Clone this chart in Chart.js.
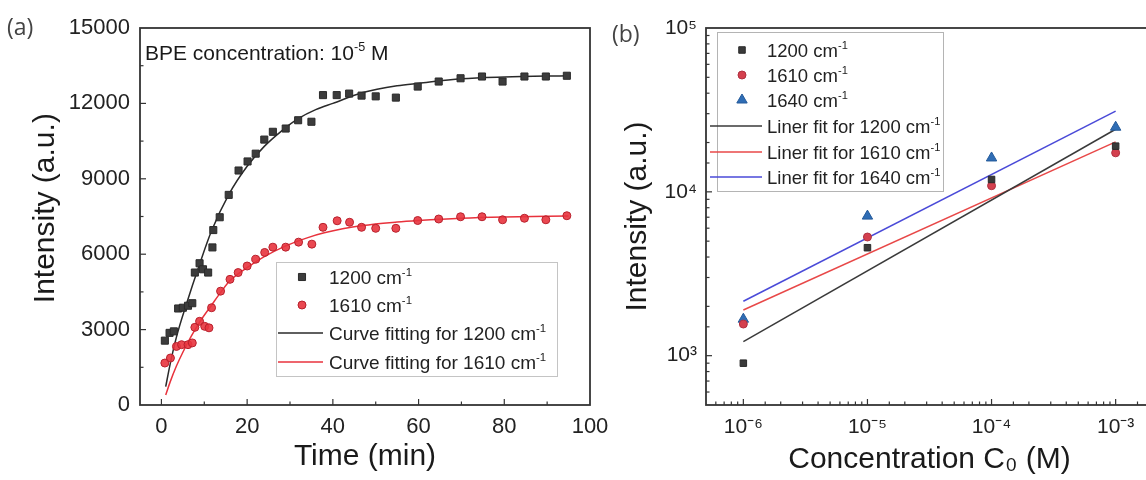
<!DOCTYPE html>
<html>
<head>
<meta charset="utf-8">
<script src="https://cdn.jsdelivr.net/npm/chart.js@4.4.1/dist/chart.umd.min.js"></script>
<style>
  html, body { margin: 0; padding: 0; background: #fff; overflow: hidden; width: 1146px; height: 480px; }
  #wrapB { position: absolute; left: 600px; top: 0; width: 560px; height: 480px; }
  #wrapA { position: absolute; left: 0; top: 0; width: 620px; height: 480px; }
</style>
</head>
<body>
<div id="wrapB"><canvas id="chartB" width="560" height="480"></canvas></div>
<div id="wrapA"><canvas id="chartA" width="620" height="480"></canvas></div>
<script>
// ---------- Panel (a): intensity vs. time ----------
const time1200 = [0.8, 1.9, 2.9, 3.9, 5.0, 6.2, 7.2, 7.8, 8.9, 9.7, 10.9, 11.9, 12.1, 13.6, 15.7, 18.0, 20.1, 22.0, 24.0, 26.0, 29.0, 31.9, 35.0, 37.7, 40.9, 43.8, 46.7, 50.0, 54.7, 59.8, 64.7, 69.8, 74.8, 79.6, 84.7, 89.7, 94.6];
const int1200 = [2560, 2870, 2930, 3840, 3870, 3950, 4050, 5270, 5640, 5400, 5270, 6270, 6960, 7470, 8360, 9330, 9690, 10000, 10560, 10870, 11000, 11330, 11270, 12330, 12330, 12390, 12310, 12280, 12230, 12670, 12870, 13000, 13070, 12870, 13070, 13070, 13100];

const time1610 = [0.8, 2.1, 3.5, 4.7, 6.2, 7.2, 7.8, 8.9, 10.1, 11.1, 11.7, 13.8, 16.0, 17.9, 20.0, 22.0, 24.1, 26.0, 29.0, 32.0, 35.1, 37.7, 41.0, 43.9, 46.7, 50.0, 54.7, 59.8, 64.7, 69.8, 74.8, 79.6, 84.7, 89.7, 94.6];
const int1610 = [1670, 1870, 2330, 2400, 2400, 2470, 3090, 3330, 3130, 3070, 3870, 4530, 5000, 5270, 5530, 5800, 6070, 6280, 6280, 6480, 6400, 7070, 7330, 7270, 7070, 7030, 7030, 7340, 7400, 7490, 7490, 7370, 7430, 7370, 7530];

const fitTime1200 = [1, 2, 3.5, 5.8, 8.9, 11.7, 15.8, 20, 24, 28, 32, 36, 40, 47, 55, 60, 70, 80, 95];
const fit1200 = [730, 1600, 2700, 4000, 5600, 6930, 8400, 9500, 10290, 10900, 11400, 11750, 12000, 12430, 12700, 12800, 12980, 13050, 13100];

const fitTime1610 = [1, 2, 3.5, 5, 7, 9, 11.8, 14, 16, 20, 24, 29, 34, 38, 47, 55, 60, 70, 80, 95];
const fit1610 = [400, 900, 1550, 2100, 2750, 3320, 4000, 4520, 4950, 5470, 5900, 6330, 6650, 6850, 7140, 7280, 7340, 7430, 7480, 7520];

const timeTicks = [0, 20, 40, 60, 80, 100];
const timeMinorTicks = [10, 30, 50, 70, 90];
const intensityTicksA = [0, 3000, 6000, 9000, 12000, 15000];

// ---------- Panel (b): intensity vs. concentration ----------
const conc = [1e-6, 1e-5, 1e-4, 1e-3];
const int1200b = [900, 4560, 11900, 19000];
const int1610b = [1560, 5300, 10900, 17300];
const int1640b = [1670, 7110, 16100, 24800];

const fitConc = [1e-6, 1e-3];
const fit1200b = [1220, 24100];
const fit1610b = [1900, 20200];
const fit1640b = [2150, 31100];

const concTicks = [1e-6, 1e-5, 1e-4, 1e-3];
const intensityTicksB = [1e3, 1e4, 1e5];

// ---------- shared helpers ----------
const FONT = "'Liberation Sans', Arial, Helvetica, sans-serif";
Chart.defaults.font.family = FONT;
Chart.defaults.color = '#222';

const pts = (xs, ys) => xs.map((x, i) => ({ x, y: ys[i] }));
const near = (list, v) => list.some(t => Math.abs(Math.log10(Math.abs(t) || 1) - Math.log10(Math.abs(v) || 1)) < 1e-6 && Math.sign(t) === Math.sign(v));
const SUP = { '-': '\u207B', '0': '\u2070', '1': '\u00B9', '2': '\u00B2', '3': '\u00B3', '4': '\u2074', '5': '\u2075', '6': '\u2076', '7': '\u2077', '8': '\u2078', '9': '\u2079' };
const powLabel = v => '10' + String(Math.round(Math.log10(v))).split('').map(c => SUP[c]).join('');

// text with raised exponents, drawn from a baseline
function drawRich(ctx, x, y, parts, size, color) {
  ctx.save();
  ctx.fillStyle = color;
  ctx.textAlign = 'left';
  ctx.textBaseline = 'alphabetic';
  let cx = x;
  for (const p of parts) {
    const s = p.sup ? size * 0.6 : size;
    ctx.font = `${s}px ${FONT}`;
    const dy = p.sup ? -size * 0.42 : 0;
    ctx.fillText(p.text, cx, y + dy);
    cx += ctx.measureText(p.text).width;
  }
  ctx.restore();
}

function marker(ctx, ds, x, y) {
  ctx.save();
  ctx.fillStyle = ds.backgroundColor;
  ctx.strokeStyle = ds.borderColor;
  ctx.lineWidth = ds.borderWidth;
  Chart.helpers.drawPoint(ctx, { pointStyle: ds.pointStyle, radius: ds.pointRadius, borderWidth: ds.borderWidth, rotation: 0 }, x, y);
  ctx.restore();
}

// closed frame plus inward ticks; extra draws legend and labels
function makeFramePlugin(kindX, kindY, extra) {
  return {
    id: 'frameTicks',
    afterDatasetsDraw(chart) {
      const { ctx, chartArea: a } = chart;
      ctx.save();
      ctx.strokeStyle = '#333';
      ctx.lineWidth = 1.2;
      const xs = chart.scales.x, ys = chart.scales.y;
      for (const t of xs.ticks) {
        const k = kindX(t.value);
        if (!k) continue;
        const p = xs.getPixelForValue(t.value);
        if (p < a.left + 1 || p > a.right - 1) continue;
        const len = k === 'major' ? 6 : 3.5;
        ctx.beginPath(); ctx.moveTo(p, a.bottom); ctx.lineTo(p, a.bottom - len); ctx.stroke();
      }
      for (const t of ys.ticks) {
        const k = kindY(t.value);
        if (!k) continue;
        const p = ys.getPixelForValue(t.value);
        if (p < a.top + 1 || p > a.bottom - 1) continue;
        const len = k === 'major' ? 6 : 3.5;
        ctx.beginPath(); ctx.moveTo(a.left, p); ctx.lineTo(a.left + len, p); ctx.stroke();
      }
      ctx.lineWidth = 1.8;
      ctx.strokeRect(a.left, a.top, a.right - a.left, a.bottom - a.top);
      ctx.restore();
    },
    afterDraw(chart) { extra(chart); }
  };
}

function axisFit(size, horizontal) {
  return s => {
    if (horizontal) { s.height = size; s.paddingLeft = 0; s.paddingRight = 0; }
    else { s.width = size; s.paddingTop = 0; s.paddingBottom = 0; }
  };
}

const cm = (n) => [{ text: n + ' cm' }, { text: '-1', sup: true }];

// ---------- chart (a) ----------
const dsA = [
  { label: '1200 cm-1', data: pts(time1200, int1200), pointStyle: 'rect', pointRadius: 5, backgroundColor: '#3c3c3c', borderColor: '#2a2a2a', borderWidth: 1, showLine: false },
  { label: '1610 cm-1', data: pts(time1610, int1610), pointStyle: 'circle', pointRadius: 4, backgroundColor: 'rgba(232,52,62,0.9)', borderColor: '#b8202c', borderWidth: 1, showLine: false },
  { label: 'Curve fitting for 1200 cm-1', data: pts(fitTime1200, fit1200), showLine: true, pointRadius: 0, borderColor: '#2a2a2a', backgroundColor: '#2a2a2a', borderWidth: 1.5, cubicInterpolationMode: 'monotone' },
  { label: 'Curve fitting for 1610 cm-1', data: pts(fitTime1610, fit1610), showLine: true, pointRadius: 0, borderColor: '#e8323c', backgroundColor: '#e8323c', borderWidth: 1.5, cubicInterpolationMode: 'monotone' }
];

const extraA = chart => {
  const ctx = chart.ctx;
  // panel tag
  ctx.save();
  ctx.font = `23px 'Open Sans', sans-serif`;
  ctx.fillStyle = '#444';
  ctx.textBaseline = 'middle';
  ctx.fillText('(a)', 7, 28);
  ctx.restore();
  // annotation
  drawRich(ctx, 145, 60, [{ text: 'BPE concentration: 10' }, { text: '-5', sup: true }, { text: ' M' }], 21, '#1a1a1a');
  // legend box
  ctx.save();
  ctx.fillStyle = '#fff';
  ctx.strokeStyle = '#c4c4c4';
  ctx.lineWidth = 1;
  ctx.fillRect(276, 262, 281, 114);
  ctx.strokeRect(276.5, 262.5, 281, 114);
  ctx.restore();
  const rows = [277, 305, 333, 362];
  const ds = chart.data.datasets;
  marker(ctx, ds[0], 302, rows[0]);
  marker(ctx, ds[1], 302, rows[1]);
  [2, 3].forEach((i, j) => {
    ctx.save();
    ctx.strokeStyle = ds[i].borderColor; ctx.lineWidth = 1.5;
    ctx.beginPath(); ctx.moveTo(278, rows[2 + j]); ctx.lineTo(323, rows[2 + j]); ctx.stroke();
    ctx.restore();
  });
  const size = 19;
  drawRich(ctx, 329, rows[0] + 7, cm('1200'), size, '#222');
  drawRich(ctx, 329, rows[1] + 7, cm('1610'), size, '#222');
  drawRich(ctx, 329, rows[2] + 7, [{ text: 'Curve fitting for 1200 cm' }, { text: '-1', sup: true }], size, '#222');
  drawRich(ctx, 329, rows[3] + 7, [{ text: 'Curve fitting for 1610 cm' }, { text: '-1', sup: true }], size, '#222');
};

new Chart(document.getElementById('chartA'), {
  type: 'scatter',
  data: { datasets: dsA },
  options: {
    responsive: false,
    animation: false,
    layout: { padding: { top: 28, right: 30, left: 0, bottom: 0 } },
    plugins: { legend: { display: false }, tooltip: { enabled: false } },
    scales: {
      x: {
        type: 'linear', min: -5, max: 100,
        afterFit: axisFit(75, true),
        afterBuildTicks: s => { s.ticks = timeTicks.concat(timeMinorTicks).sort((p, q) => p - q).map(v => ({ value: v })); },
        grid: { display: false, drawTicks: false },
        border: { display: false },
        ticks: { autoSkip: false, maxRotation: 0, padding: 9, font: { size: 22 }, color: '#222',
          callback: v => timeTicks.includes(v) ? String(v) : '' },
        title: { display: true, text: 'Time (min)', font: { size: 30 }, color: '#1a1a1a', padding: { top: 0, bottom: 5 } }
      },
      y: {
        type: 'linear', min: 0, max: 15000,
        afterFit: axisFit(140, false),
        grid: { display: false, drawTicks: false },
        border: { display: false },
        ticks: { stepSize: 1500, autoSkip: false, padding: 10, font: { size: 22 }, color: '#222',
          callback: v => intensityTicksA.includes(v) ? String(v) : '' },
        title: { display: true, text: '  Intensity (a.u.)', font: { size: 30 }, color: '#1a1a1a', padding: { top: 28, bottom: 0 } }
      }
    }
  },
  plugins: [makeFramePlugin(
    v => timeTicks.includes(v) ? 'major' : (timeMinorTicks.includes(v) ? 'minor' : null),
    v => intensityTicksA.includes(v) ? 'major' : (v % 1500 === 0 ? 'minor' : null),
    extraA)]
});

// ---------- chart (b) ----------
const dsB = [
  { label: '1200 cm-1', data: pts(conc, int1200b), pointStyle: 'rect', pointRadius: 4.6, backgroundColor: '#3a3a3a', borderColor: '#2a2a2a', borderWidth: 1, showLine: false },
  { label: '1610 cm-1', data: pts(conc, int1610b), pointStyle: 'circle', pointRadius: 4, backgroundColor: '#d4404e', borderColor: '#b03040', borderWidth: 1, showLine: false },
  { label: '1640 cm-1', data: pts(conc, int1640b), pointStyle: 'triangle', pointRadius: 6, backgroundColor: '#2f6db5', borderColor: '#245a9a', borderWidth: 1, showLine: false },
  { label: 'Liner fit for 1200 cm-1', data: pts(fitConc, fit1200b), showLine: true, pointRadius: 0, borderColor: '#3a3a3a', borderWidth: 1.5 },
  { label: 'Liner fit for 1610 cm-1', data: pts(fitConc, fit1610b), showLine: true, pointRadius: 0, borderColor: '#e84848', borderWidth: 1.5 },
  { label: 'Liner fit for 1640 cm-1', data: pts(fitConc, fit1640b), showLine: true, pointRadius: 0, borderColor: '#4a4ad8', borderWidth: 1.5 }
];

const extraB = chart => {
  const ctx = chart.ctx;
  ctx.save();
  ctx.font = `23px 'Open Sans', sans-serif`;
  ctx.fillStyle = '#444';
  ctx.textBaseline = 'middle';
  ctx.fillText('(b)', 12, 35);
  ctx.restore();
  // legend box
  ctx.save();
  ctx.fillStyle = '#fff';
  ctx.strokeStyle = '#b4b4b4';
  ctx.lineWidth = 1;
  ctx.fillRect(117, 32, 226, 159);
  ctx.strokeRect(117.5, 32.5, 226, 159);
  ctx.restore();
  const rows = [50, 75, 100, 126, 152, 177];
  const ds = chart.data.datasets;
  for (let i = 0; i < 3; i++) marker(ctx, ds[i], 142, rows[i]);
  for (let i = 3; i < 6; i++) {
    ctx.save();
    ctx.strokeStyle = ds[i].borderColor; ctx.lineWidth = 1.5;
    ctx.beginPath(); ctx.moveTo(110, rows[i]); ctx.lineTo(162, rows[i]); ctx.stroke();
    ctx.restore();
  }
  const size = 18.5;
  drawRich(ctx, 167, rows[0] + 7, cm('1200'), size, '#222');
  drawRich(ctx, 167, rows[1] + 7, cm('1610'), size, '#222');
  drawRich(ctx, 167, rows[2] + 7, cm('1640'), size, '#222');
  drawRich(ctx, 167, rows[3] + 7, [{ text: 'Liner fit for 1200 cm' }, { text: '-1', sup: true }], size, '#222');
  drawRich(ctx, 167, rows[4] + 7, [{ text: 'Liner fit for 1610 cm' }, { text: '-1', sup: true }], size, '#222');
  drawRich(ctx, 167, rows[5] + 7, [{ text: 'Liner fit for 1640 cm' }, { text: '-1', sup: true }], size, '#222');
};

new Chart(document.getElementById('chartB'), {
  type: 'scatter',
  data: { datasets: dsB },
  options: {
    responsive: false,
    animation: false,
    layout: { padding: { top: 28, right: 6, left: 0, bottom: 0 } },
    plugins: { legend: { display: false }, tooltip: { enabled: false } },
    scales: {
      x: {
        type: 'logarithmic', min: 5e-7, max: 2e-3,
        afterFit: axisFit(75, true),
        grid: { display: false, drawTicks: false },
        border: { display: false },
        ticks: { autoSkip: false, maxRotation: 0, padding: 10, font: { size: 21 }, color: '#222',
          callback: v => near(concTicks, v) ? powLabel(v) : '' },
        title: { display: true, text: 'Concentration C\u2080 (M)', font: { size: 30 }, color: '#1a1a1a', padding: { top: 0, bottom: 2 } }
      },
      y: {
        type: 'logarithmic', min: 500, max: 1e5,
        afterFit: axisFit(106, false),
        grid: { display: false, drawTicks: false },
        border: { display: false },
        ticks: { autoSkip: false, padding: 9, font: { size: 21 }, color: '#222',
          callback: v => near(intensityTicksB, v) ? powLabel(v) : '' },
        title: { display: true, text: 'Intensity (a.u.)', font: { size: 30 }, color: '#1a1a1a', padding: { top: 20, bottom: 0 } }
      }
    }
  },
  plugins: [makeFramePlugin(
    v => near(concTicks, v) ? 'major' : 'minor',
    v => near(intensityTicksB, v) ? 'major' : 'minor',
    extraB)]
});
</script>
</body>
</html>
